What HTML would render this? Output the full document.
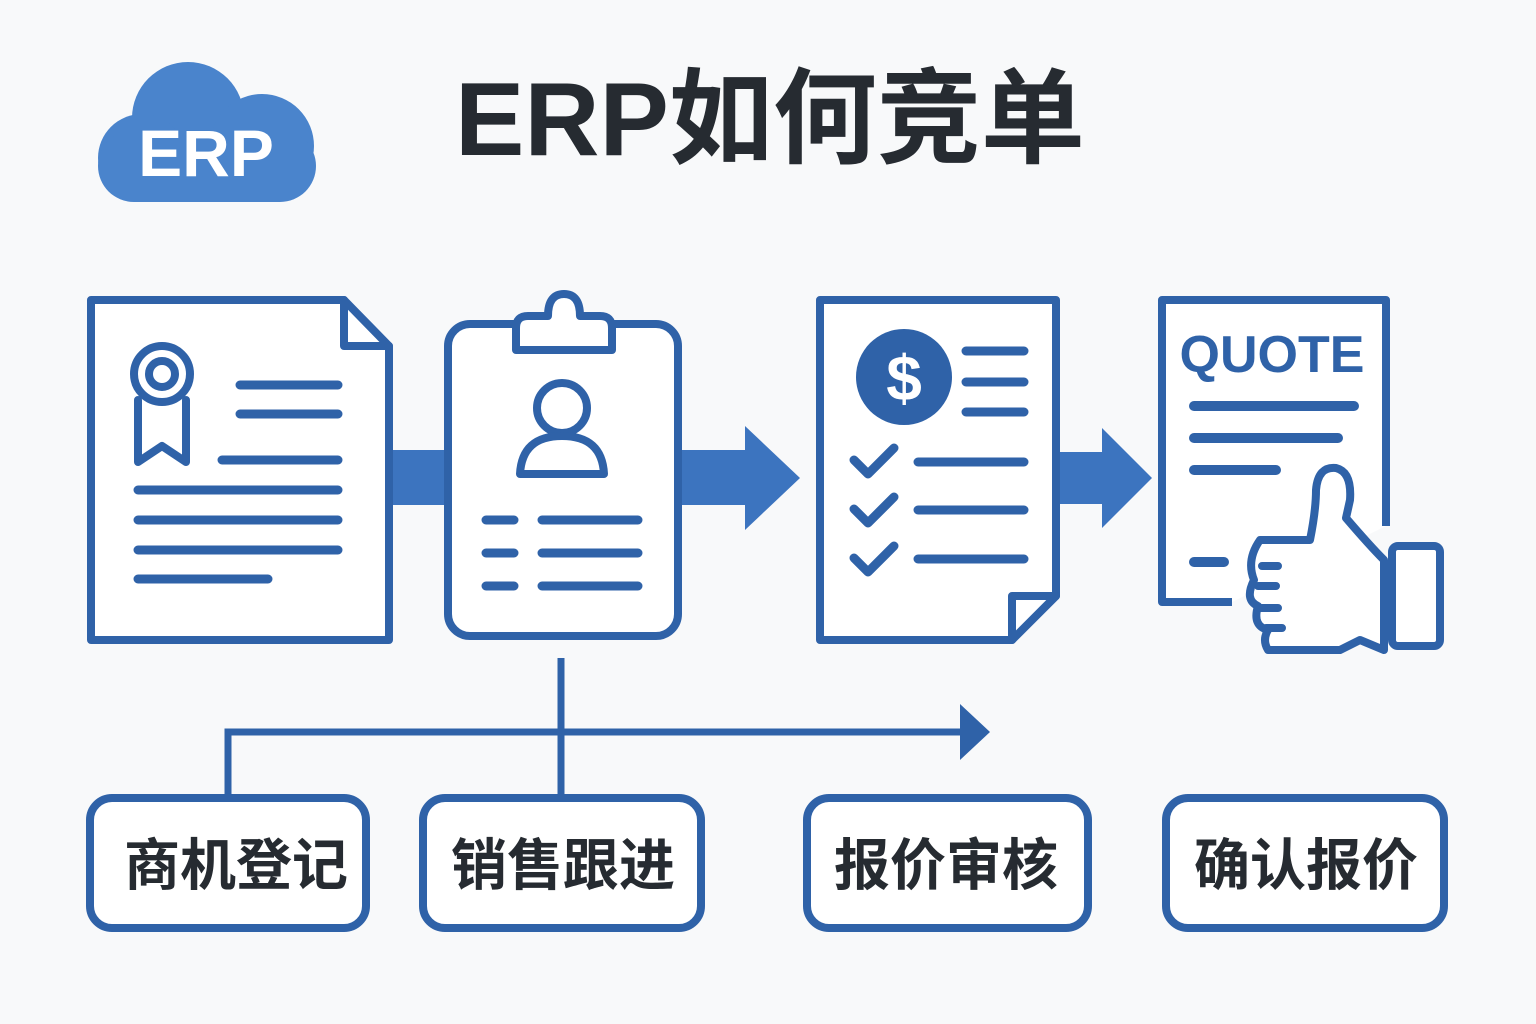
<!DOCTYPE html>
<html><head><meta charset="utf-8"><style>
html,body{margin:0;padding:0;background:#f7f8f9;}
svg{display:block}
</style></head><body>
<svg width="1536" height="1024" viewBox="0 0 1536 1024" xmlns="http://www.w3.org/2000/svg">
<rect width="1536" height="1024" fill="#f8f9fa"/>
<!-- cloud -->
<g fill="#4a84cc">
<circle cx="188" cy="118" r="56"/>
<circle cx="262" cy="146" r="52"/>
<circle cx="142" cy="158" r="44"/>
<rect x="98" y="130" width="218" height="72" rx="36"/>
</g>
<text x="206" y="176" font-family="Liberation Sans, sans-serif" font-weight="bold" font-size="66" fill="#fff" text-anchor="middle">ERP</text>
<!-- title -->
<text x="455" y="155" font-family="Liberation Sans, 'Noto Sans CJK SC', sans-serif" font-weight="bold" font-size="104" fill="#262b31">ERP如何竞单</text>

<g stroke="#2f62a8" stroke-width="8" fill="none" stroke-linecap="round" stroke-linejoin="round">
<!-- arrows band -->
<polygon points="390,450 745,450 745,426 800,478 745,530 745,505 390,505" fill="#3c74bf" stroke="none"/>
<polygon points="1058,452 1102,452 1102,428 1152,478 1102,528 1102,504 1058,504" fill="#3c74bf" stroke="none"/>
<!-- doc1 -->
<path d="M91,300 L344,300 L389,346 L389,640 L91,640 Z" fill="#fff" stroke-linecap="butt"/>
<path d="M344,300 L344,346 L389,346"/>
<circle cx="162" cy="374" r="28"/>
<circle cx="162" cy="374" r="13"/>
<path d="M138,400 L138,462 L162,446 L186,462 L186,400"/>
<path d="M240,385H338 M240,414H338 M222,460H338 M138,490H338 M138,520H338 M138,550H338 M138,579H268" stroke-width="9"/>
<!-- clipboard -->
<rect x="448" y="324" width="230" height="312" rx="22" fill="#fff"/>
<path d="M516,350 L516,328 Q516,316 528,316 L548,316 Q548,294 564,294 Q580,294 580,316 L600,316 Q612,316 612,328 L612,350 Z" fill="#fff"/>
<circle cx="562" cy="408" r="25"/>
<path d="M520,474 Q522,436 562,436 Q602,436 604,474 Z"/>
<path d="M486,520H514 M542,520H638 M486,553H514 M542,553H638 M486,586H514 M542,586H638" stroke-width="9"/>
<!-- doc3 -->
<path d="M820,300 L1056,300 L1056,596 L1012,640 L820,640 Z" fill="#fff" stroke-linecap="butt"/>
<path d="M1012,640 L1012,596 L1056,596"/>
<circle cx="904" cy="377" r="48" fill="#2f62a8" stroke="none"/>
<text x="904" y="400" font-family="Liberation Sans, sans-serif" font-weight="bold" font-size="64" fill="#fff" text-anchor="middle" stroke="none">$</text>
<path d="M966,351H1024 M966,382H1024 M966,412H1024 M918,462H1024 M918,510H1024 M918,559H1024" stroke-width="9"/>
<path d="M854,460 L868,474 L894,448 M854,509 L868,523 L894,497 M854,558 L868,572 L894,546" stroke-width="9"/>
<!-- doc4 -->
<path d="M1232,602 L1162,602 L1162,300 L1386,300 L1386,526" fill="#fff" stroke-linecap="butt"/>
<text x="1272" y="372" font-family="Liberation Sans, sans-serif" font-weight="bold" font-size="52" fill="#2f62a8" stroke="none" text-anchor="middle">QUOTE</text>
<path d="M1194,406H1354 M1194,438H1338 M1194,470H1276 M1194,562H1224" stroke-width="10"/>
<path d="M1260,540 L1310,540 Q1316,510 1316,490 Q1318,466 1336,468 Q1352,472 1350,500 L1346,518 Q1370,546 1384,560 L1384,650 L1360,640 L1340,650 L1268,650 Q1262,640 1268,630 Q1252,626 1258,606 Q1244,600 1254,580 Q1246,560 1260,540 Z" fill="#fff"/>
<rect x="1392" y="546" width="48" height="100" rx="6" fill="#fff"/>
<path d="M1262,566H1278 M1258,586H1276 M1260,608H1278 M1266,628H1282" stroke-width="8"/>
<!-- connectors -->
<path d="M561,658 L561,796 M228,796 L228,732 L966,732" stroke-width="7" stroke-linecap="butt" stroke-linejoin="miter"/>
<polygon points="960,704 990,732 960,760" fill="#2f62a8" stroke="none"/>
<!-- boxes -->
<rect x="90" y="798" width="276" height="130" rx="22" fill="#fff"/>
<rect x="423" y="798" width="278" height="130" rx="22" fill="#fff"/>
<rect x="807" y="798" width="281" height="130" rx="22" fill="#fff"/>
<rect x="1166" y="798" width="278" height="130" rx="22" fill="#fff"/>
</g>
<g font-family="Liberation Sans, 'Noto Sans CJK SC', sans-serif" font-weight="bold" font-size="56" fill="#262b31" text-anchor="middle">
<text x="236" y="885">商机登记</text>
<text x="563" y="885">销售跟进</text>
<text x="946" y="885">报价审核</text>
<text x="1306" y="885">确认报价</text>
</g>
</svg>
</body></html>
